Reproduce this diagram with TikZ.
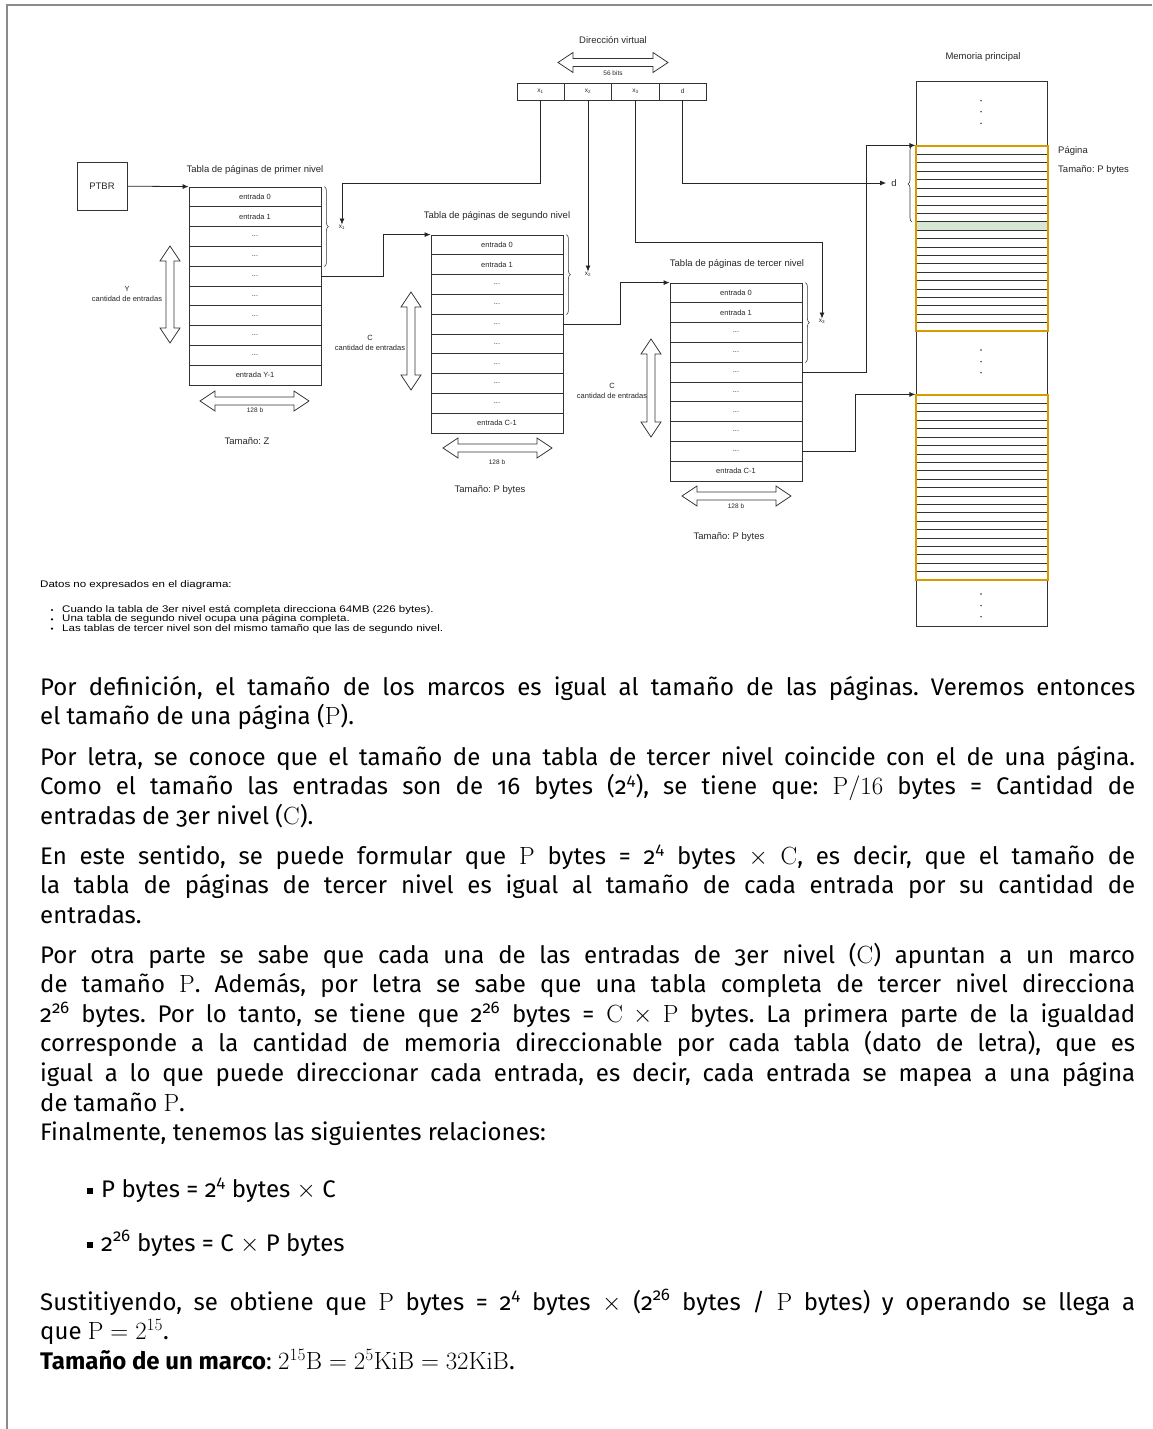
\documentclass[tikz,border=0pt]{standalone}
\usepackage[no-math]{fontspec}
\setmainfont{Fira Sans}[Numbers=OldStyle]
\newfontfamily\diafont{Liberation Sans}
\newfontfamily\notafont{Liberation Sans}[FakeStretch=1.2]
\usepackage{xcolor}
\usetikzlibrary{arrows.meta,calc,positioning,decorations.pathreplacing}
\frenchspacing

\definecolor{gristrazo}{HTML}{333333}
\definecolor{grismarco}{HTML}{8A8A8A}
\definecolor{naranja}{HTML}{D79B00}
\definecolor{verdefila}{HTML}{D5E8D4}

% flechas dobles de bloque (como las de drawio)
\newcommand{\flechah}[3]{% x izq, x der, y centro
  \draw[bloque] (#1,#3) -- (#1+15,#3-10) -- (#1+15,#3-4) -- (#2-15,#3-4)
    -- (#2-15,#3-10) -- (#2,#3) -- (#2-15,#3+10) -- (#2-15,#3+4)
    -- (#1+15,#3+4) -- (#1+15,#3+10) -- cycle;}
\newcommand{\flechav}[3]{% x centro, y arriba, y abajo
  \draw[bloque] (#1,#2) -- (#1+10,#2+15) -- (#1+4,#2+15) -- (#1+4,#3-15)
    -- (#1+10,#3-15) -- (#1,#3) -- (#1-10,#3-15) -- (#1-4,#3-15)
    -- (#1-4,#2+15) -- (#1-10,#2+15) -- cycle;}

\begin{document}
\begin{tikzpicture}[x=1pt,y=-1pt]
  \tikzstyle{every node}=[inner sep=0pt]
  \tikzstyle{texto}=[font=\diafont\fontsize{9.5}{11}\selectfont, text=black!85]
  \tikzstyle{chico}=[font=\diafont\fontsize{7.5}{10}\selectfont, text=black!85]
  \tikzstyle{mini}=[font=\diafont\fontsize{6.5}{8}\selectfont, text=black!85]
  \tikzstyle{notas}=[font=\notafont\fontsize{9.6}{9.3}\selectfont, anchor=west]
  \tikzstyle{fila}=[draw=gristrazo, line width=0.8pt, minimum width=132pt, minimum height=19.8pt, chico]
  \tikzstyle{celda}=[draw=gristrazo, line width=0.8pt, minimum width=47.25pt, minimum height=17pt, mini]
  \tikzstyle{flecha}=[draw=black!85, line width=0.8pt, -{Latex[length=6pt,width=5pt]}]
  \tikzstyle{bloque}=[draw=gristrazo, line width=0.8pt, fill=white]
  \tikzstyle{llave}=[draw=gristrazo, line width=0.6pt, decorate, decoration={brace, amplitude=4pt}]
  \tikzstyle{cuerpo}=[font=\fontsize{24}{29.6}\selectfont]
  \tikzstyle{parrafo}=[anchor=base west, text width=1095pt, align=justify, cuerpo]

  \useasboundingbox (0,0) rectangle (1152,1429);
  % marco de la pagina
  \draw[grismarco, line width=2pt] (7,1429) -- (7,5) -- (1152,5);

  % direccion virtual
  \node[texto] (tdv) at (613,40) {Dirección virtual};
  \flechah{558}{668}{62.5}
  \node[mini] (bits) at (613,73) {56 bits};
  \foreach \n/\cx/\txt in {dx1/540.6/x\textsubscript{1}, dx2/588/x\textsubscript{2}, dx3/635.4/x\textsubscript{3}, dd/682.6/d}
    \node[celda] (\n) at (\cx,91.5) {\txt};

  % tablas de paginas
  \node[draw=gristrazo, line width=0.8pt, minimum width=50pt, minimum height=48pt, texto] (ptbr) at (102,186) {PTBR};
  \foreach \t/\tx/\ty/\ult in {1/255/187/Y-1, 2/497/235/C-1, 3/736/283/C-1}
    \foreach \i in {0,...,9}
      \node[fila] (tab\t-\i) at (\tx,\ty+9.9+\i*19.8) {\ifnum\i<2 entrada \i\else\ifnum\i=9 entrada \ult\else ...\fi\fi};
  \node[texto] (tit1) at (255,170) {Tabla de páginas de primer nivel};
  \node[texto] (tit2) at (497,216) {Tabla de páginas de segundo nivel};
  \node[texto] (tit3) at (737,264) {Tabla de páginas de tercer nivel};

  \draw[llave] ($(tab1-0.north east)+(3,0)$) -- ($(tab1-3.south east)+(3,0)$);
  \draw[llave] ($(tab2-0.north east)+(3,0)$) -- ($(tab2-3.south east)+(3,0)$);
  \draw[llave] ($(tab3-0.north east)+(3,0)$) -- ($(tab3-3.south east)+(3,0)$);
  \node[mini] (lx1) at (342,227) {x\textsubscript{1}};
  \node[mini] (lx2) at (588,274) {x\textsubscript{2}};
  \node[mini] (lx3) at (822,321) {x\textsubscript{3}};

  \flechav{170}{246}{343}
  \flechav{411}{292}{390}
  \flechav{651}{339}{437}
  \node[chico, align=center] (cant1) at (127,294) {Y\\cantidad de entradas};
  \node[chico, align=center] (cant2) at (370,343) {C\\cantidad de entradas};
  \node[chico, align=center] (cant3) at (612,391) {C\\cantidad de entradas};

  \flechah{200}{309}{401}
  \flechah{443}{552}{448}
  \flechah{682}{791}{496}
  \node[mini] (ancho1) at (255,410) {128 b};
  \node[mini] (ancho2) at (497,462) {128 b};
  \node[mini] (ancho3) at (736,506) {128 b};
  \node[texto] (tam1) at (247,441) {Tamaño: Z};
  \node[texto] (tam2) at (490,490) {Tamaño: P bytes};
  \node[texto] (tam3) at (729,537) {Tamaño: P bytes};

  % memoria principal
  \node[texto] (tmem) at (983,57) {Memoria principal};
  \node[draw=gristrazo, line width=0.8pt, minimum width=131pt, minimum height=545pt] (mem) at (981.5,353.5) {};
  \filldraw[fill=verdefila, draw=gristrazo, line width=0.7pt] (916,221.7) rectangle (1048,230.1);
  \foreach \p/\py in {1/146, 2/395} {
    \foreach \k in {1,...,21}
      \draw[gristrazo, line width=0.7pt] (916,\py+\k*8.41) -- (1048,\py+\k*8.41);
    \node[draw=naranja, line width=1.2pt, minimum width=132pt, minimum height=185pt] (pag\p) at (982,\py+92.5) {};
  }
  \foreach \dy in {100.7,111.7,123.3,350,361.7,372.7,594,605.7,616.7}
    \fill[gristrazo] (981,\dy) circle (0.8);
  \draw[llave] (912,222) -- (912,146);
  \node[texto] (ld) at (894,183) {d};
  \node[texto, anchor=west] (tpag) at (1058,151) {Página};
  \node[texto, anchor=west] (ttam) at (1058,170) {Tamaño: P bytes};

  % conexiones
  \draw[flecha] (dx1.south) -- ++(0,83) -| (lx1.north);
  \draw[flecha] (dx2.south) -- (lx2.north);
  \draw[flecha] (dx3.south) -- ++(0,142) -| (lx3.north);
  \draw[flecha, shorten >=5pt] (dd.south) |- (ld.west);
  \draw[flecha] (ptbr) -- (tab1-0.north west);
  \draw[flecha] (tab1-4.east) -- ++(62,0) |- (tab2-0.north west);
  \draw[flecha] (tab2-4.east) -- ++(57,0) |- (tab3-0.north west);
  \draw[flecha] (tab3-4.east) -- ++(64,0) |- (pag1.north west);
  \draw[flecha] (tab3-8.east) -- ++(53,0) |- (pag2.north west);

  % datos no expresados
  \node[notas] (datos) at (40,585) {Datos no expresados en el diagrama:};
  \foreach \j/\ny/\txt in {1/610/Cuando la tabla de 3er nivel está completa direcciona 64MB (226 bytes).,
      2/619.3/Una tabla de segundo nivel ocupa una página completa.,
      3/628.6/Las tablas de tercer nivel son del mismo tamaño que las de segundo nivel.} {
    \fill (52,\ny) circle (1.2);
    \node[notas] (nota\j) at (62,\ny) {\txt};
  }

  % texto
  \node[parrafo] (par1) at (40,695) {Por definición, el tamaño de los marcos es igual al tamaño de las páginas. Veremos entonces\linebreak el tamaño de una página ($\mathrm{P}$).};
  \node[parrafo] (par2) at (40,765) {Por letra, se conoce que el tamaño de una tabla de tercer nivel coincide con el de una página.\linebreak Como el tamaño las entradas son de 16 bytes (2\textsuperscript{4}), se tiene que: $\mathrm{P}/16$ bytes = Cantidad de\linebreak entradas de 3er nivel ($\mathrm{C}$).};
  \node[parrafo] (par3) at (40,864) {En este sentido, se puede formular que $\mathrm{P}$ bytes = 2\textsuperscript{4} bytes $\times$ $\mathrm{C}$, es decir, que el tamaño de\linebreak la tabla de páginas de tercer nivel es igual al tamaño de cada entrada por su cantidad de\linebreak entradas.};
  \node[parrafo] (par4) at (40,963) {Por otra parte se sabe que cada una de las entradas de 3er nivel ($\mathrm{C}$) apuntan a un marco\linebreak de tamaño $\mathrm{P}$. Además, por letra se sabe que una tabla completa de tercer nivel direcciona\linebreak 2\textsuperscript{26} bytes. Por lo tanto, se tiene que 2\textsuperscript{26} bytes = $\mathrm{C}\times\mathrm{P}$ bytes. La primera parte de la igualdad\linebreak corresponde a la cantidad de memoria direccionable por cada tabla (dato de letra), que es\linebreak igual a lo que puede direccionar cada entrada, es decir, cada entrada se mapea a una página\linebreak de tamaño $\mathrm{P}$.\\ Finalmente, tenemos las siguientes relaciones:};
  \node[fill=black, minimum size=5.5pt] (cuad1) at (90,1191) {};
  \node[fill=black, minimum size=5.5pt] (cuad2) at (90,1245) {};
  \node[anchor=base west, cuerpo] (rel1) at (101,1197) {P bytes = 2\textsuperscript{4} bytes $\times$ C};
  \node[anchor=base west, cuerpo] (rel2) at (101,1251) {2\textsuperscript{26} bytes = C $\times$ P bytes};
  \node[parrafo] (par5) at (40,1310) {Sustitiyendo, se obtiene que $\mathrm{P}$ bytes = 2\textsuperscript{4} bytes $\times$ (2\textsuperscript{26} bytes / $\mathrm{P}$ bytes) y operando se llega a\linebreak que $\mathrm{P} = 2^{15}$.\\ \textbf{Tamaño de un marco}: $2^{15}\mathrm{B} = 2^{5}\mathrm{KiB} = 32\mathrm{KiB}$.};
\end{tikzpicture}
\end{document}
